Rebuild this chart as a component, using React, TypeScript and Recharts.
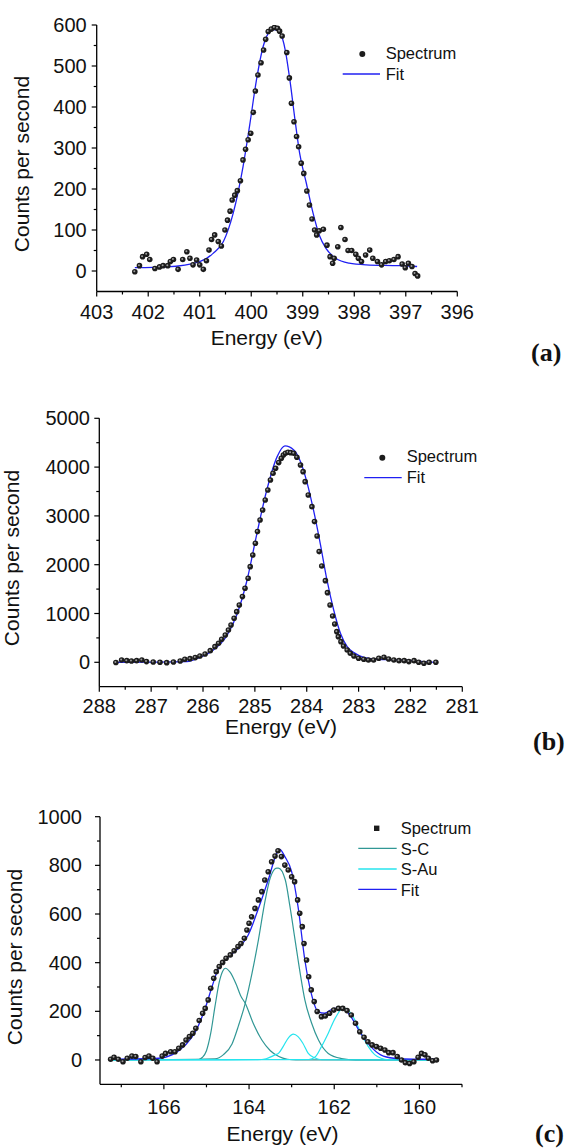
import React from "react";
import { ComposedChart, Scatter, Line, XAxis, YAxis } from "recharts";

// ---- (a) N 1s ----
const aEnergy = [402.26, 402.17, 402.11, 402.03, 401.97, 401.87, 401.78, 401.71, 401.62, 401.57, 401.51, 401.42, 401.33, 401.25, 401.19, 401.13, 401.06, 401.0, 400.93, 400.87, 400.82, 400.77, 400.71, 400.64, 400.58, 400.51, 400.46, 400.41, 400.37, 400.32, 400.27, 400.21, 400.16, 400.11, 400.06, 400.01, 399.96, 399.92, 399.87, 399.81, 399.76, 399.72, 399.67, 399.61, 399.55, 399.49, 399.45, 399.4, 399.31, 399.26, 399.22, 399.17, 399.12, 399.08, 399.03, 398.98, 398.92, 398.87, 398.82, 398.77, 398.73, 398.68, 398.6, 398.53, 398.47, 398.42, 398.39, 398.32, 398.26, 398.18, 398.12, 398.05, 397.97, 397.92, 397.86, 397.78, 397.7, 397.64, 397.55, 397.47, 397.39, 397.32, 397.23, 397.15, 397.07, 397.01, 396.95, 396.88, 396.82, 396.77];
const aCounts = [-2, 13, 35, 41, 28, 6, 10, 13, 13, 23, 28, 4, 28, 47, 31, 15, 27, 15, 4, 25, 51, 77, 88, 72, 61, 100, 124, 146, 173, 185, 196, 220, 271, 297, 320, 336, 387, 439, 478, 508, 539, 565, 584, 590, 594, 592, 585, 573, 533, 471, 409, 364, 328, 303, 263, 238, 195, 161, 127, 100, 88, 98, 102, 63, 35, 19, 31, 59, 106, 77, 50, 50, 41, 31, 23, 39, 51, 31, 23, 15, 23, 25, 28, 35, 17, 8, 19, 11, -6, -12];
const aFitEnergy = [402.26, 401.64, 401.0, 400.74, 400.54, 400.35, 400.16, 400.03, 399.9, 399.77, 399.64, 399.55, 399.44, 399.34, 399.25, 399.15, 399.06, 398.93, 398.8, 398.68, 398.55, 398.36, 398.1, 397.77, 397.13, 396.78];
const aFitCounts = [8, 10, 23, 43, 72, 141, 254, 356, 465, 547, 584, 589, 580, 539, 466, 368, 287, 214, 141, 88, 55, 31, 19, 15, 13, 11];
const aXTicks = [403, 402.5, 402, 401.5, 401, 400.5, 400, 399.5, 399, 398.5, 398, 397.5, 397, 396.5, 396];
const aYTicks = [0, 50, 100, 150, 200, 250, 300, 350, 400, 450, 500, 550, 600];

// ---- (b) C 1s ----
const bEnergy = [287.68, 287.57, 287.47, 287.38, 287.28, 287.18, 287.09, 286.96, 286.83, 286.7, 286.57, 286.44, 286.35, 286.25, 286.15, 286.06, 285.96, 285.86, 285.77, 285.7, 285.64, 285.57, 285.51, 285.46, 285.4, 285.35, 285.3, 285.24, 285.19, 285.13, 285.09, 285.04, 284.99, 284.95, 284.9, 284.85, 284.8, 284.75, 284.7, 284.65, 284.6, 284.54, 284.49, 284.45, 284.41, 284.36, 284.31, 284.25, 284.19, 284.12, 284.07, 284.03, 283.97, 283.9, 283.85, 283.8, 283.76, 283.71, 283.64, 283.6, 283.55, 283.5, 283.46, 283.42, 283.39, 283.34, 283.29, 283.22, 283.16, 283.09, 283.0, 282.9, 282.81, 282.71, 282.61, 282.51, 282.42, 282.32, 282.22, 282.12, 282.03, 281.93, 281.84, 281.74, 281.64, 281.51];
const bCounts = [-5, 48, 34, 27, 34, 48, 14, 7, 0, -7, 7, 27, 61, 75, 96, 130, 171, 239, 321, 389, 471, 560, 663, 765, 902, 1038, 1175, 1346, 1516, 1721, 1960, 2200, 2439, 2678, 2917, 3122, 3327, 3531, 3736, 3873, 3975, 4092, 4180, 4249, 4283, 4303, 4296, 4283, 4201, 4044, 3907, 3702, 3429, 3190, 2883, 2589, 2268, 1974, 1673, 1427, 1175, 949, 786, 628, 526, 423, 335, 253, 184, 130, 82, 61, 48, 48, 82, 102, 68, 48, 34, 34, 14, 34, 0, -20, 0, 0];
const bFitEnergy = [287.68, 286.31, 286.06, 285.8, 285.54, 285.35, 285.15, 284.96, 284.77, 284.57, 284.42, 284.25, 284.12, 283.99, 283.87, 283.74, 283.61, 283.48, 283.35, 283.22, 283.09, 282.9, 282.64, 282.19, 281.74, 281.51];
const bFitCounts = [0, 14, 102, 253, 546, 970, 1687, 2643, 3531, 4215, 4433, 4351, 4112, 3668, 3122, 2439, 1687, 1072, 594, 321, 198, 102, 61, 48, 14, 0];
const bXTicks = [288, 287.5, 287, 286.5, 286, 285.5, 285, 284.5, 284, 283.5, 283, 282.5, 282, 281.5, 281];
const bYTicks = [0, 500, 1000, 1500, 2000, 2500, 3000, 3500, 4000, 4500, 5000];

// ---- (c) S 2p ----
const cEnergy = [167.25, 167.17, 167.07, 166.96, 166.86, 166.75, 166.66, 166.54, 166.44, 166.35, 166.26, 166.16, 166.04, 165.96, 165.84, 165.74, 165.65, 165.56, 165.48, 165.4, 165.32, 165.25, 165.17, 165.09, 165.03, 164.96, 164.9, 164.83, 164.77, 164.7, 164.62, 164.54, 164.44, 164.35, 164.26, 164.19, 164.11, 164.05, 164.0, 163.94, 163.86, 163.78, 163.7, 163.63, 163.55, 163.47, 163.39, 163.32, 163.24, 163.16, 163.08, 163.0, 162.93, 162.86, 162.81, 162.75, 162.71, 162.65, 162.6, 162.54, 162.47, 162.4, 162.3, 162.21, 162.11, 162.01, 161.9, 161.8, 161.7, 161.6, 161.5, 161.4, 161.3, 161.21, 161.11, 161.01, 160.91, 160.81, 160.72, 160.62, 160.52, 160.42, 160.33, 160.23, 160.13, 160.03, 159.95, 159.87, 159.79, 159.69, 159.6];
const cCounts = [3, 11, 3, -7, 7, 16, 14, -7, 10, 16, 7, -7, 16, 27, 34, 34, 48, 62, 82, 96, 110, 130, 162, 192, 212, 247, 295, 336, 363, 384, 401, 418, 432, 449, 466, 479, 500, 534, 562, 589, 623, 658, 692, 740, 774, 815, 838, 860, 836, 801, 781, 753, 733, 658, 603, 548, 479, 411, 342, 288, 240, 199, 178, 181, 192, 205, 212, 212, 203, 185, 151, 116, 93, 75, 62, 55, 48, 41, 30, 30, 14, 0, -11, -14, -7, 11, 27, 21, 7, -3, 0];
const cFitEnergy = [167.25, 166.12, 165.81, 165.49, 165.26, 165.03, 164.87, 164.72, 164.48, 164.25, 164.02, 163.78, 163.55, 163.35, 163.28, 163.16, 163.0, 162.85, 162.69, 162.54, 162.38, 162.23, 162.0, 161.8, 161.61, 161.38, 161.14, 160.91, 160.6, 160.12, 159.6];
const cFitCounts = [3, 7, 21, 62, 116, 212, 301, 377, 425, 459, 514, 623, 740, 849, 866, 836, 774, 630, 411, 274, 199, 192, 212, 212, 178, 110, 55, 21, 7, 3, 3];
const sc1Energy = [167.25, 165.18, 165.1, 165.0, 164.9, 164.8, 164.7, 164.62, 164.56, 164.45, 164.3, 164.2, 164.09, 163.9, 163.7, 163.5, 163.3, 163.1, 162.9, 159.6];
const sc1Counts = [0, 2, 10, 38, 110, 220, 320, 365, 377, 362, 310, 265, 233, 150, 82, 38, 14, 3, 0, 0];
const sc2Energy = [167.25, 164.8, 164.6, 164.4, 164.25, 164.09, 163.93, 163.78, 163.62, 163.5, 163.35, 163.31, 163.15, 163.04, 162.92, 162.8, 162.69, 162.53, 162.37, 162.14, 161.83, 161.5, 159.6];
const sc2Counts = [0, 5, 22, 66, 140, 233, 357, 494, 658, 750, 789, 789, 741, 631, 494, 357, 247, 151, 82, 27, 6, 0, 0];
const sau1Energy = [167.25, 163.8, 163.6, 163.4, 163.31, 163.2, 163.08, 162.96, 162.85, 162.74, 162.61, 162.45, 162.3, 159.6];
const sau1Counts = [0, 1, 5, 20, 27, 55, 90, 106, 96, 70, 27, 8, 1, 0];
const sau2Energy = [167.25, 162.6, 162.45, 162.3, 162.14, 161.98, 161.79, 161.6, 161.44, 161.3, 161.2, 161.05, 160.9, 160.75, 159.6];
const sau2Counts = [0, 2, 12, 55, 110, 171, 213, 190, 137, 85, 55, 22, 7, 1, 0];
const cXTicks = [167, 166, 165, 164, 163, 162, 161, 160, 159];
const cYTicks = [0, 100, 200, 300, 400, 500, 600, 700, 800, 900, 1000];

const FONT = '"Liberation Sans", Arial, sans-serif';
const BLUE = "#2020f2";
const TEAL = "#319795";
const CYAN = "#26e4ee";
const AXIS_W = 60; // room reserved for the y axis inside the margin
const AXIS_H = 40; // room reserved for the x axis

const zip = (es: number[], cs: number[]) => es.map((e, i) => ({ e, c: cs[i] }));

const SpecDot = (p: any) => (
  <g>
    <circle cx={p.cx} cy={p.cy} r={2.8} fill="#1c1c1c" />
    <circle cx={p.cx - 0.5} cy={p.cy - 0.5} r={1} fill="#9a9a9a" />
  </g>
);

function XTick(props: any) {
  const { x, y, payload, isMajor, dy } = props;
  const v = payload.value;
  const m = isMajor(v);
  return (
    <g>
      <line x1={x} y1={y} x2={x} y2={y + (m ? 5 : 3)} stroke="#000" strokeWidth={1.2} />
      {m && (
        <text x={x} y={y + dy} textAnchor="middle" fontSize={20} fontFamily={FONT} fill="#111">
          {v}
        </text>
      )}
    </g>
  );
}

function YTick(props: any) {
  const { x, y, payload, isMajor, gap } = props;
  const v = payload.value;
  const m = isMajor(v);
  return (
    <g>
      <line x1={x - (m ? 5 : 3)} y1={y} x2={x} y2={y} stroke="#000" strokeWidth={1.2} />
      {m && (
        <text x={x - gap} y={y + 7} textAnchor="end" fontSize={20} fontFamily={FONT} fill="#111">
          {v}
        </text>
      )}
    </g>
  );
}

interface Series {
  data: { e: number; c: number }[];
  color: string;
}

interface PanelProps {
  top: number;
  height: number;
  plot: { left: number; right: number; top: number; bottom: number }; // page coords
  xDomain: [number, number];
  yDomain: [number, number];
  xTicks: number[];
  yTicks: number[];
  xMajor: (v: number) => boolean;
  yMajor: (v: number) => boolean;
  xDy: number;
  yGap: number;
  spectrum: { e: number; c: number }[];
  fit: { e: number; c: number }[];
  components?: Series[];
}

function Panel(p: PanelProps) {
  const margin = {
    left: p.plot.left - AXIS_W,
    right: 567 - p.plot.right,
    top: p.plot.top - p.top,
    bottom: p.top + p.height - p.plot.bottom - AXIS_H,
  };
  return (
    <div style={{ position: "absolute", left: 0, top: p.top }}>
      <ComposedChart width={567} height={p.height} margin={margin}>
        <XAxis
          type="number"
          dataKey="e"
          domain={p.xDomain}
          reversed
          allowDataOverflow
          ticks={p.xTicks}
          interval={0}
          height={AXIS_H}
          tickSize={0}
          tickMargin={0}
          tickLine={false}
          axisLine={{ stroke: "#000", strokeWidth: 1.3 }}
          tick={(t: any) => <XTick {...t} isMajor={p.xMajor} dy={p.xDy} />}
        />
        <YAxis
          type="number"
          dataKey="c"
          domain={p.yDomain}
          allowDataOverflow
          ticks={p.yTicks}
          interval={0}
          width={AXIS_W}
          tickSize={0}
          tickMargin={0}
          tickLine={false}
          axisLine={{ stroke: "#000", strokeWidth: 1.3 }}
          tick={(t: any) => <YTick {...t} isMajor={p.yMajor} gap={p.yGap} />}
        />
        <Scatter data={p.spectrum} dataKey="c" shape={SpecDot} isAnimationActive={false} />
        {(p.components || []).map((s, i) => (
          <Line
            key={i}
            data={s.data}
            dataKey="c"
            type="monotone"
            stroke={s.color}
            strokeWidth={1.2}
            dot={false}
            isAnimationActive={false}
          />
        ))}
        <Line data={p.fit} dataKey="c" type="monotone" stroke={BLUE} strokeWidth={1.3} dot={false} isAnimationActive={false} />
      </ComposedChart>
    </div>
  );
}

const txt = { fontFamily: FONT, fill: "#111" } as const;
const letter = { fontFamily: '"Liberation Serif", "DejaVu Serif", serif', fontWeight: 700, fontSize: 26, fill: "#111" } as const;

function Overlay() {
  return (
    <svg width={567} height={1148} style={{ position: "absolute", left: 0, top: 0, pointerEvents: "none" }}>
      {/* (a) */}
      <text transform="translate(28.6,164) rotate(-90)" textAnchor="middle" fontSize={21} {...txt}>Counts per second</text>
      <text x={266.7} y={345} textAnchor="middle" fontSize={21} {...txt}>Energy (eV)</text>
      <text x={531} y={360.5} {...letter}>(a)</text>
      <circle cx={362.3} cy={54} r={3} fill="#1c1c1c" />
      <text x={385.7} y={59} fontSize={16.5} {...txt}>Spectrum</text>
      <line x1={342.7} x2={380} y1={74} y2={74} stroke={BLUE} strokeWidth={1.3} />
      <text x={385.7} y={80} fontSize={16.5} {...txt}>Fit</text>

      {/* (b) */}
      <text transform="translate(18.6,558) rotate(-90)" textAnchor="middle" fontSize={21} {...txt}>Counts per second</text>
      <text x={281} y={734} textAnchor="middle" fontSize={21} {...txt}>Energy (eV)</text>
      <text x={533} y={750} {...letter}>(b)</text>
      <circle cx={382.3} cy={457.7} r={3} fill="#1c1c1c" />
      <text x={406.7} y={462} fontSize={16.5} {...txt}>Spectrum</text>
      <line x1={364.3} x2={401.7} y1={477.7} y2={477.7} stroke={BLUE} strokeWidth={1.3} />
      <text x={406.7} y={483} fontSize={16.5} {...txt}>Fit</text>

      {/* (c) */}
      <text transform="translate(22,957) rotate(-90)" textAnchor="middle" fontSize={21} {...txt}>Counts per second</text>
      <text x={282.6} y={1141} textAnchor="middle" fontSize={21} {...txt}>Energy (eV)</text>
      <text x={535} y={1141.5} {...letter}>(c)</text>
      <rect x={374} y={825.6} width={5.4} height={5.4} fill="#1c1c1c" />
      <text x={400.7} y={833.5} fontSize={16.5} {...txt}>Spectrum</text>
      <line x1={358.3} x2={396.7} y1={848.3} y2={848.3} stroke={TEAL} strokeWidth={1.3} />
      <text x={400.7} y={854.5} fontSize={16.5} {...txt}>S-C</text>
      <line x1={358.3} x2={396.7} y1={869} y2={869} stroke={CYAN} strokeWidth={1.3} />
      <text x={400.7} y={875.2} fontSize={16.5} {...txt}>S-Au</text>
      <line x1={358.3} x2={396.7} y1={889.3} y2={889.3} stroke={BLUE} strokeWidth={1.3} />
      <text x={400.7} y={895.5} fontSize={16.5} {...txt}>Fit</text>
    </svg>
  );
}

export default function App() {
  const isInt = (v: number) => Number.isInteger(v);
  const isEven = (v: number) => v % 2 === 0;
  const hundreds = (v: number) => v % 100 === 0;
  const thousands = (v: number) => v % 1000 === 0;
  const twoHundreds = (v: number) => v % 200 === 0;

  return (
    <div style={{ position: "absolute", left: 0, top: 0, width: 567, height: 1148, background: "#fff", overflow: "hidden" }}>
      <Panel
        top={0}
        height={370}
        plot={{ left: 96.7, right: 457.3, top: 25, bottom: 291.5 }}
        xDomain={[396, 403]}
        yDomain={[-50, 600]}
        xTicks={aXTicks}
        yTicks={aYTicks}
        xMajor={isInt}
        yMajor={hundreds}
        xDy={27.5}
        yGap={10}
        spectrum={zip(aEnergy, aCounts)}
        fit={zip(aFitEnergy, aFitCounts)}
      />
      <Panel
        top={370}
        height={390}
        plot={{ left: 99.3, right: 462.3, top: 418.3, bottom: 686.7 }}
        xDomain={[281, 288]}
        yDomain={[-500, 5000]}
        xTicks={bXTicks}
        yTicks={bYTicks}
        xMajor={isInt}
        yMajor={thousands}
        xDy={26}
        yGap={9.3}
        spectrum={zip(bEnergy, bCounts)}
        fit={zip(bFitEnergy, bFitCounts)}
      />
      <Panel
        top={760}
        height={388}
        plot={{ left: 100, right: 462, top: 816.7, bottom: 1084.3 }}
        xDomain={[159, 167.5]}
        yDomain={[-100, 1000]}
        xTicks={cXTicks}
        yTicks={cYTicks}
        xMajor={isEven}
        yMajor={twoHundreds}
        xDy={29.7}
        yGap={18}
        spectrum={zip(cEnergy, cCounts)}
        fit={zip(cFitEnergy, cFitCounts)}
        components={[
          { data: zip(sc1Energy, sc1Counts), color: TEAL },
          { data: zip(sc2Energy, sc2Counts), color: TEAL },
          { data: zip(sau1Energy, sau1Counts), color: CYAN },
          { data: zip(sau2Energy, sau2Counts), color: CYAN },
        ]}
      />
      <Overlay />
    </div>
  );
}
